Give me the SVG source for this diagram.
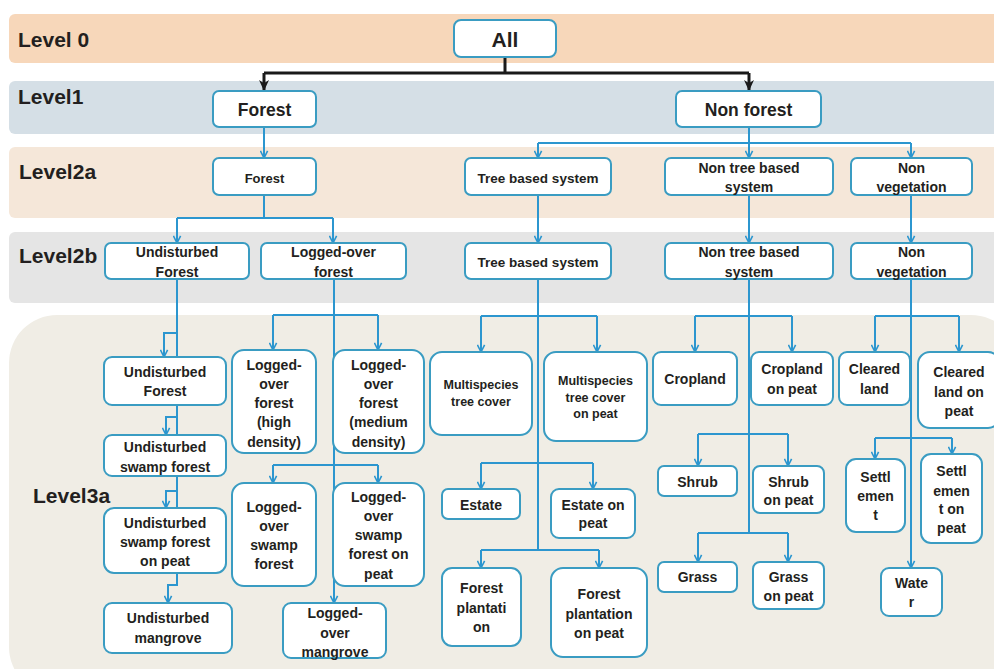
<svg xmlns="http://www.w3.org/2000/svg" width="994" height="669" viewBox="0 0 994 669">
<defs>
<style>
text{font-family:"Liberation Sans",Arial,sans-serif;font-weight:bold;fill:#231F20}
.lvl{font-size:21px}
.box rect{fill:#fff;stroke:#3A9CC2;stroke-width:2}
.box text{font-size:14px;text-anchor:middle}
.box text.sm{font-size:12.5px}
.box text.l1{font-size:17.5px}
.box text.l0{font-size:21px}
.conn path{fill:none;stroke:#2C96CF;stroke-width:2}
.conn path.blk{stroke:#1A1A1A;stroke-width:3}
</style>
<marker id="ab" viewBox="0 0 10 10" refX="9" refY="5" markerWidth="9" markerHeight="9" markerUnits="userSpaceOnUse" orient="auto">
<path d="M1,1 L9,5 L1,9" fill="none" stroke="#2C96CF" stroke-width="1.8"/>
</marker>
<marker id="ak" viewBox="0 0 10 10" refX="10" refY="5" markerWidth="11" markerHeight="11" markerUnits="userSpaceOnUse" orient="auto">
<path d="M0,0.5 L10,5 L0,9.5 L3,5 z" fill="#1A1A1A"/>
</marker>
</defs>

<g id="bands">
<rect x="9" y="14" width="1000" height="49" rx="6" fill="#F7D7BA"/>
<rect x="9" y="81" width="1000" height="53" rx="6" fill="#D5DFE6"/>
<rect x="9" y="147" width="1000" height="71" rx="6" fill="#F5E7D9"/>
<rect x="9" y="232" width="1000" height="71" rx="6" fill="#E5E5E5"/>
<rect x="9" y="315" width="1010" height="380" rx="48" fill="#F0EDE5"/>
<text class="lvl" x="18" y="47">Level 0</text>
<text class="lvl" x="18" y="104">Level1</text>
<text class="lvl" x="19" y="179">Level2a</text>
<text class="lvl" x="19" y="263">Level2b</text>
<text class="lvl" x="33" y="503">Level3a</text>
</g>

<g class="conn" id="connectors">
<path class="blk" d="M505,57 V73"/>
<path class="blk" d="M264,73 H749"/>
<path class="blk" d="M264,73 V91" marker-end="url(#ak)"/>
<path class="blk" d="M749,73 V91" marker-end="url(#ak)"/>

<path d="M264,127 V158" marker-end="url(#ab)"/>
<path d="M749,127 V143"/>
<path d="M538,143 H911"/>
<path d="M538,143 V158" marker-end="url(#ab)"/>
<path d="M749,143 V158" marker-end="url(#ab)"/>
<path d="M911,143 V158" marker-end="url(#ab)"/>

<path d="M264,195 V218"/>
<path d="M177,218 H333"/>
<path d="M177,218 V243" marker-end="url(#ab)"/>
<path d="M333,218 V243" marker-end="url(#ab)"/>
<path d="M538,195 V243" marker-end="url(#ab)"/>
<path d="M749,195 V243" marker-end="url(#ab)"/>
<path d="M911,195 V243" marker-end="url(#ab)"/>

<path d="M177,279 V357"/>
<path d="M177,333 H164 V357" marker-end="url(#ab)"/>
<path d="M177,405 V435"/>
<path d="M177,417 H166 V435" marker-end="url(#ab)"/>
<path d="M177,476 V508"/>
<path d="M177,491 H166 V508" marker-end="url(#ab)"/>
<path d="M177,573 V585 H168 V603" marker-end="url(#ab)"/>

<path d="M334,279 V603" marker-end="url(#ab)"/>
<path d="M273,315 H378"/>
<path d="M273,315 V350" marker-end="url(#ab)"/>
<path d="M378,315 V350" marker-end="url(#ab)"/>
<path d="M273,465 H378"/>
<path d="M273,465 V483" marker-end="url(#ab)"/>
<path d="M378,465 V483" marker-end="url(#ab)"/>

<path d="M538,279 V550"/>
<path d="M481,316 H597"/>
<path d="M481,316 V352" marker-end="url(#ab)"/>
<path d="M597,316 V352" marker-end="url(#ab)"/>
<path d="M481,463 H593"/>
<path d="M481,463 V489" marker-end="url(#ab)"/>
<path d="M593,463 V489" marker-end="url(#ab)"/>
<path d="M481,550 H599"/>
<path d="M481,550 V568" marker-end="url(#ab)"/>
<path d="M599,550 V568" marker-end="url(#ab)"/>

<path d="M749,279 V533"/>
<path d="M695,316 H792"/>
<path d="M695,316 V352" marker-end="url(#ab)"/>
<path d="M792,316 V352" marker-end="url(#ab)"/>
<path d="M698,434 H788"/>
<path d="M698,434 V466" marker-end="url(#ab)"/>
<path d="M788,434 V466" marker-end="url(#ab)"/>
<path d="M698,533 H788"/>
<path d="M698,533 V562" marker-end="url(#ab)"/>
<path d="M788,533 V562" marker-end="url(#ab)"/>

<path d="M911,279 V568" marker-end="url(#ab)"/>
<path d="M875,316 H959"/>
<path d="M875,316 V352" marker-end="url(#ab)"/>
<path d="M959,316 V352" marker-end="url(#ab)"/>
<path d="M875,438 H952"/>
<path d="M875,438 V459" marker-end="url(#ab)"/>
<path d="M952,438 V454" marker-end="url(#ab)"/>
</g>

<g class="box" id="n-all"><rect x="454" y="20" width="102" height="37" rx="7"/><text class="l0" x="505" y="47">All</text></g>
<g class="box" id="n-forest1"><rect x="213" y="91" width="103" height="36" rx="6"/><text class="l1" x="264.5" y="116">Forest</text></g>
<g class="box" id="n-nonforest"><rect x="676" y="91" width="145" height="36" rx="6"/><text class="l1" x="748.5" y="116">Non forest</text></g>

<g class="box" id="n-forest2a"><rect x="213" y="158" width="103" height="37" rx="6"/><text x="264.5" y="183" style="font-size:13px">Forest</text></g>
<g class="box" id="n-tree2a"><rect x="465" y="158" width="146" height="37" rx="6"/><text x="538" y="183" style="font-size:13.5px">Tree based system</text></g>
<g class="box" id="n-nontree2a"><rect x="665" y="158" width="168" height="37" rx="6"/><text x="749"><tspan x="749" y="173">Non tree based</tspan><tspan x="749" y="192">system</tspan></text></g>
<g class="box" id="n-nonveg2a"><rect x="851" y="158" width="121" height="37" rx="6"/><text x="911.5"><tspan x="911.5" y="173">Non</tspan><tspan x="911.5" y="192">vegetation</tspan></text></g>

<g class="box" id="n-undist2b"><rect x="105" y="243" width="144" height="36" rx="6"/><text x="177"><tspan x="177" y="257">Undisturbed</tspan><tspan x="177" y="277">Forest</tspan></text></g>
<g class="box" id="n-logged2b"><rect x="261" y="243" width="145" height="36" rx="6"/><text x="333.5"><tspan x="333.5" y="257">Logged-over</tspan><tspan x="333.5" y="277">forest</tspan></text></g>
<g class="box" id="n-tree2b"><rect x="465" y="243" width="146" height="36" rx="6"/><text x="538" y="267" style="font-size:13.5px">Tree based system</text></g>
<g class="box" id="n-nontree2b"><rect x="665" y="243" width="168" height="36" rx="6"/><text x="749"><tspan x="749" y="257">Non tree based</tspan><tspan x="749" y="277">system</tspan></text></g>
<g class="box" id="n-nonveg2b"><rect x="851" y="243" width="121" height="36" rx="6"/><text x="911.5"><tspan x="911.5" y="257">Non</tspan><tspan x="911.5" y="277">vegetation</tspan></text></g>

<g class="box" id="n-uf"><rect x="104" y="357" width="122" height="48" rx="8"/><text x="165"><tspan x="165" y="377">Undisturbed</tspan><tspan x="165" y="396">Forest</tspan></text></g>
<g class="box" id="n-usf"><rect x="104" y="435" width="122" height="41" rx="8"/><text x="165"><tspan x="165" y="452">Undisturbed</tspan><tspan x="165" y="472">swamp forest</tspan></text></g>
<g class="box" id="n-usfp"><rect x="104" y="508" width="122" height="65" rx="10"/><text x="165"><tspan x="165" y="528">Undisturbed</tspan><tspan x="165" y="547">swamp forest</tspan><tspan x="165" y="566">on peat</tspan></text></g>
<g class="box" id="n-um"><rect x="104" y="603" width="128" height="50" rx="8"/><text x="168"><tspan x="168" y="623">Undisturbed</tspan><tspan x="168" y="643">mangrove</tspan></text></g>

<g class="box" id="n-lohd"><rect x="232" y="350" width="84" height="103" rx="12"/><text x="274"><tspan x="274" y="370">Logged-</tspan><tspan x="274" y="389">over</tspan><tspan x="274" y="408">forest</tspan><tspan x="274" y="427">(high</tspan><tspan x="274" y="447">density)</tspan></text></g>
<g class="box" id="n-lomd"><rect x="333" y="350" width="91" height="103" rx="12"/><text x="378.5"><tspan x="378.5" y="370">Logged-</tspan><tspan x="378.5" y="389">over</tspan><tspan x="378.5" y="408">forest</tspan><tspan x="378.5" y="427">(medium</tspan><tspan x="378.5" y="447">density)</tspan></text></g>
<g class="box" id="n-losf"><rect x="232" y="483" width="84" height="103" rx="12"/><text x="274"><tspan x="274" y="512">Logged-</tspan><tspan x="274" y="531">over</tspan><tspan x="274" y="550">swamp</tspan><tspan x="274" y="569">forest</tspan></text></g>
<g class="box" id="n-losfp"><rect x="333" y="483" width="91" height="103" rx="12"/><text x="378.5"><tspan x="378.5" y="502">Logged-</tspan><tspan x="378.5" y="521">over</tspan><tspan x="378.5" y="540">swamp</tspan><tspan x="378.5" y="559">forest on</tspan><tspan x="378.5" y="579">peat</tspan></text></g>
<g class="box" id="n-lom"><rect x="283" y="603" width="103" height="55" rx="8"/><text x="335"><tspan x="335" y="618">Logged-</tspan><tspan x="335" y="638">over</tspan><tspan x="335" y="657">mangrove</tspan></text></g>

<g class="box" id="n-mtc"><rect x="430" y="352" width="102" height="83" rx="12"/><text class="sm" x="481"><tspan x="481" y="389">Multispecies</tspan><tspan x="481" y="406">tree cover</tspan></text></g>
<g class="box" id="n-mtcp"><rect x="544" y="352" width="103" height="89" rx="12"/><text class="sm" x="595.5"><tspan x="595.5" y="385">Multispecies</tspan><tspan x="595.5" y="402">tree cover</tspan><tspan x="595.5" y="418">on peat</tspan></text></g>
<g class="box" id="n-estate"><rect x="442" y="489" width="78" height="30" rx="6"/><text x="481" y="510">Estate</text></g>
<g class="box" id="n-estatep"><rect x="551" y="489" width="84" height="49" rx="8"/><text x="593"><tspan x="593" y="510">Estate on</tspan><tspan x="593" y="528">peat</tspan></text></g>
<g class="box" id="n-fp"><rect x="442" y="568" width="79" height="78" rx="10"/><text x="481.5"><tspan x="481.5" y="593">Forest</tspan><tspan x="481.5" y="613">plantati</tspan><tspan x="481.5" y="632">on</tspan></text></g>
<g class="box" id="n-fpp"><rect x="551" y="568" width="96" height="89" rx="12"/><text x="599"><tspan x="599" y="599">Forest</tspan><tspan x="599" y="619">plantation</tspan><tspan x="599" y="638">on peat</tspan></text></g>

<g class="box" id="n-crop"><rect x="653" y="352" width="84" height="53" rx="8"/><text x="695" y="384">Cropland</text></g>
<g class="box" id="n-cropp"><rect x="751" y="352" width="82" height="53" rx="8"/><text x="792"><tspan x="792" y="374">Cropland</tspan><tspan x="792" y="394">on peat</tspan></text></g>
<g class="box" id="n-shrub"><rect x="658" y="466" width="79" height="30" rx="6"/><text x="697.5" y="487">Shrub</text></g>
<g class="box" id="n-shrubp"><rect x="753" y="466" width="71" height="47" rx="7"/><text x="788.5"><tspan x="788.5" y="487">Shrub</tspan><tspan x="788.5" y="505">on peat</tspan></text></g>
<g class="box" id="n-grass"><rect x="658" y="562" width="79" height="30" rx="6"/><text x="697.5" y="582">Grass</text></g>
<g class="box" id="n-grassp"><rect x="753" y="562" width="71" height="47" rx="7"/><text x="788.5"><tspan x="788.5" y="582">Grass</tspan><tspan x="788.5" y="601">on peat</tspan></text></g>

<g class="box" id="n-cleared"><rect x="839" y="352" width="71" height="53" rx="8"/><text x="874.5"><tspan x="874.5" y="374">Cleared</tspan><tspan x="874.5" y="394">land</tspan></text></g>
<g class="box" id="n-clearedp"><rect x="918" y="352" width="82" height="76" rx="12"/><text x="959"><tspan x="959" y="377">Cleared</tspan><tspan x="959" y="397">land on</tspan><tspan x="959" y="416">peat</tspan></text></g>
<g class="box" id="n-settl"><rect x="846" y="459" width="59" height="73" rx="10"/><text x="875.5"><tspan x="875.5" y="482">Settl</tspan><tspan x="875.5" y="501">emen</tspan><tspan x="875.5" y="520">t</tspan></text></g>
<g class="box" id="n-settlp"><rect x="921" y="454" width="61" height="89" rx="10"/><text x="951.5"><tspan x="951.5" y="476">Settl</tspan><tspan x="951.5" y="496">emen</tspan><tspan x="951.5" y="514">t on</tspan><tspan x="951.5" y="533">peat</tspan></text></g>
<g class="box" id="n-water"><rect x="881" y="568" width="61" height="48" rx="8"/><text x="911.5"><tspan x="911.5" y="588">Wate</tspan><tspan x="911.5" y="607">r</tspan></text></g>
</svg>
